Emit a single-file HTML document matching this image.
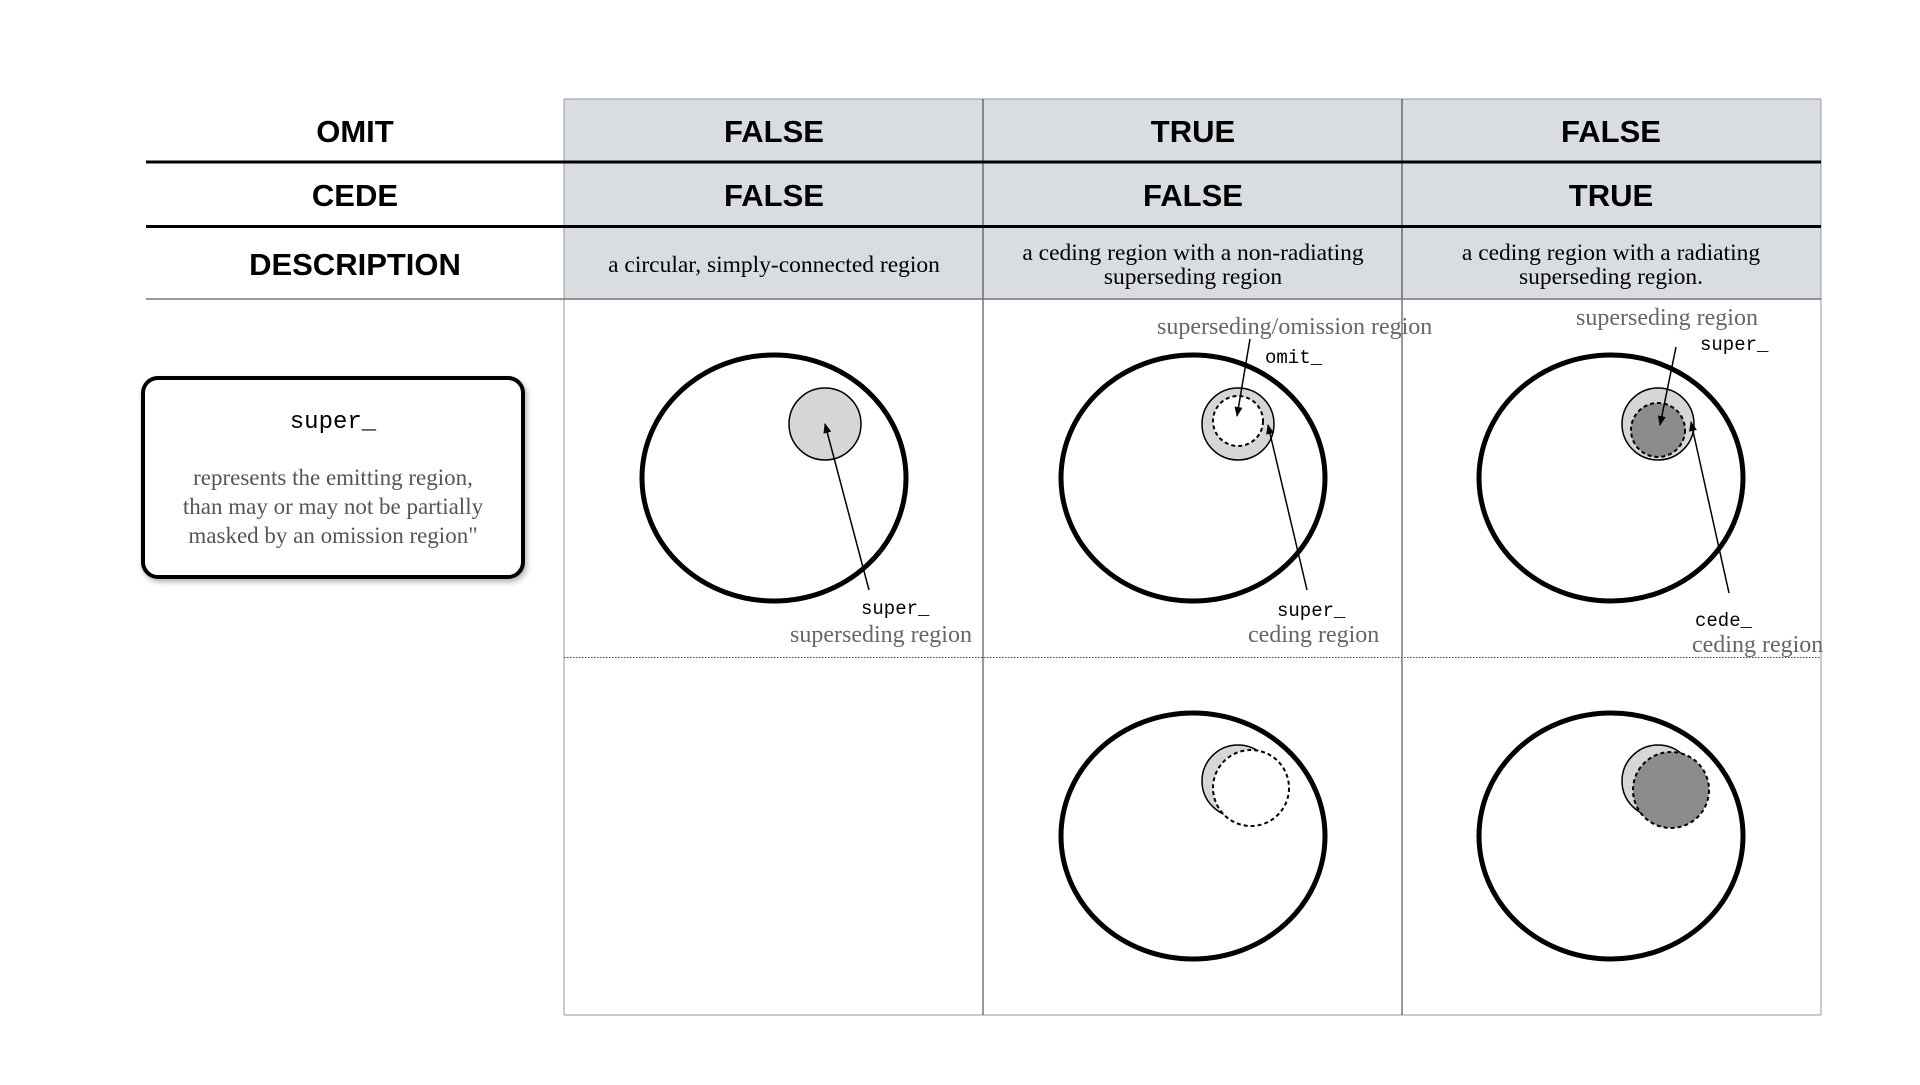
<!DOCTYPE html>
<html><head><meta charset="utf-8"><style>body{margin:0;background:#fff}</style></head><body>
<svg width="1920" height="1080" viewBox="0 0 1920 1080" xmlns="http://www.w3.org/2000/svg">
<defs><marker id="a" markerWidth="10" markerHeight="10" refX="9" refY="5" orient="auto" markerUnits="userSpaceOnUse"><path d="M0,1 L10,5 L0,9 z" fill="#000"/></marker>
<filter id="sh" x="-10%" y="-10%" width="130%" height="130%"><feDropShadow dx="2" dy="3" stdDeviation="3" flood-opacity="0.3"/></filter></defs>
<rect x="564" y="99" width="1257" height="200" fill="#d9dde1"/>
<g stroke="#999" stroke-width="1" fill="none"><line x1="564" y1="99" x2="1821" y2="99"/><line x1="564" y1="99" x2="564" y2="1015"/><line x1="1821" y1="99" x2="1821" y2="1015"/><line x1="564" y1="1015" x2="1821" y2="1015"/></g>
<g stroke="#333" stroke-width="1"><line x1="983" y1="99" x2="983" y2="1015"/><line x1="1402" y1="99" x2="1402" y2="1015"/></g>
<g stroke="#000" stroke-width="3"><line x1="146" y1="162" x2="1821" y2="162"/><line x1="146" y1="226.5" x2="1821" y2="226.5"/></g>
<line x1="146" y1="299" x2="1821" y2="299" stroke="#777" stroke-width="1.5"/>
<line x1="564" y1="657.5" x2="1821" y2="657.5" stroke="#444" stroke-width="1" stroke-dasharray="1.5,1.5"/>
<g font-family="Liberation Sans, sans-serif" font-weight="bold" font-size="31" text-anchor="middle" fill="#000">
<text x="355" y="142">OMIT</text><text x="355" y="206">CEDE</text><text x="355" y="275">DESCRIPTION</text>
<text x="774" y="142">FALSE</text><text x="1193" y="142">TRUE</text><text x="1611" y="142">FALSE</text>
<text x="774" y="206">FALSE</text><text x="1193" y="206">FALSE</text><text x="1611" y="206">TRUE</text></g>
<g font-family="Liberation Serif, serif" font-size="23.5" text-anchor="middle" fill="#000">
<text x="774" y="272">a circular, simply-connected region</text>
<text x="1193" y="260">a ceding region with a non-radiating</text><text x="1193" y="284">superseding region</text>
<text x="1611" y="260">a ceding region with a radiating</text><text x="1611" y="284">superseding region.</text></g>
<rect x="143" y="378" width="380" height="199" rx="15" fill="#fff" stroke="#000" stroke-width="4" filter="url(#sh)"/>
<text x="333" y="428" font-family="Liberation Mono, monospace" font-size="24" text-anchor="middle">super_</text>
<g font-family="Liberation Serif, serif" font-size="23" text-anchor="middle" fill="#555">
<text x="333" y="485">represents the emitting region,</text><text x="333" y="514">than may or may not be partially</text><text x="333" y="543">masked by an omission region"</text></g>
<g fill="none" stroke="#000" stroke-width="5">
<ellipse cx="774" cy="478" rx="132" ry="123"/><ellipse cx="1193" cy="478" rx="132" ry="123"/><ellipse cx="1611" cy="478" rx="132" ry="123"/>
<ellipse cx="1193" cy="836" rx="132" ry="123"/><ellipse cx="1611" cy="836" rx="132" ry="123"/></g>
<g stroke="#000" stroke-width="1.5">
<circle cx="825" cy="424" r="36" fill="#d6d6d6"/>
<circle cx="1238" cy="424" r="36" fill="#d6d6d6"/>
<circle cx="1238" cy="421" r="25" fill="#fff" stroke-dasharray="4,3" stroke-width="2"/>
<circle cx="1658" cy="424" r="36" fill="#d6d6d6"/>
<circle cx="1658" cy="430" r="27" fill="#8c8c8c" stroke-dasharray="4,3" stroke-width="2"/>
<circle cx="1238" cy="781" r="36" fill="#d6d6d6"/>
<circle cx="1251" cy="788" r="38" fill="#fff" stroke-dasharray="4,3" stroke-width="2"/>
<circle cx="1658" cy="781" r="36" fill="#d6d6d6"/>
<circle cx="1671" cy="790" r="38" fill="#8c8c8c" stroke-dasharray="4,3" stroke-width="2"/></g>
<g stroke="#000" stroke-width="1.5" marker-end="url(#a)">
<line x1="869" y1="590" x2="825" y2="424"/>
<line x1="1250" y1="339" x2="1237" y2="416"/>
<line x1="1307" y1="590" x2="1268" y2="425"/>
<line x1="1676" y1="347" x2="1660" y2="425"/>
<line x1="1729" y1="593" x2="1691" y2="422"/></g>
<g font-family="Liberation Mono, monospace" font-size="19" fill="#000">
<text x="861" y="614">super_</text><text x="1265" y="363">omit_</text><text x="1277" y="616">super_</text>
<text x="1700" y="350">super_</text><text x="1695" y="626">cede_</text></g>
<g font-family="Liberation Serif, serif" font-size="24" fill="#666">
<text x="790" y="642">superseding region</text><text x="1157" y="334">superseding/omission region</text>
<text x="1248" y="642">ceding region</text><text x="1576" y="325">superseding region</text>
<text x="1692" y="652">ceding region</text></g>
</svg>
</body></html>
